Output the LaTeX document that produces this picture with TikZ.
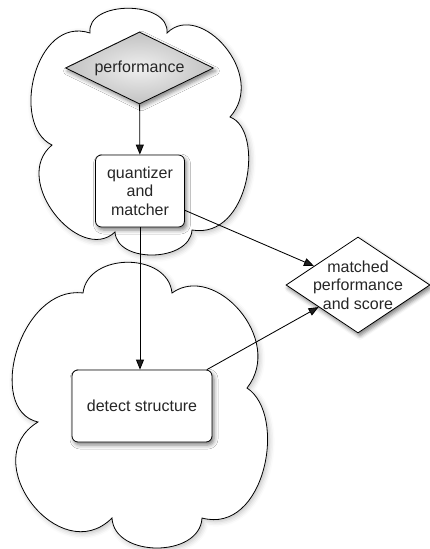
\documentclass[tikz,border=0pt]{standalone}
\usepackage{fontspec}
\setmainfont{Liberation Sans}
\usetikzlibrary{shapes.geometric,arrows.meta,shadows.blur}
\begin{document}
\begin{tikzpicture}[x=1pt,y=-1pt,
  softshadow/.style={blur shadow={shadow xshift=2pt,shadow yshift=-3pt,shadow blur radius=4pt,shadow opacity=50}},
  cloudline/.style={draw=black,line width=0.8pt,fill=white,
    blur shadow={shadow xshift=2pt,shadow yshift=-2pt,shadow blur radius=5pt,shadow opacity=25}},
  procbox/.style={rectangle,rounded corners=6pt,draw,line width=0.8pt,fill=white,
    align=center,text=black!85,font=\fontsize{16}{18.5}\selectfont,inner sep=0pt,softshadow},
  decision/.style={diamond,draw,line width=0.8pt,inner sep=0pt,softshadow},
  dlabel/.style={align=center,text=black!85,font=\fontsize{16}{18.5}\selectfont,inner sep=0pt},
  conn/.style={-{Triangle[length=10pt,width=8pt]},line width=0.85pt}]
\useasboundingbox (0,0) rectangle (430,549);
% clouds
\draw[cloudline] (90,33) .. controls (86,0) and (170,0) .. (167,33)
  .. controls (200,0) and (268,75) .. (230,117)
  .. controls (265,130) and (250,240) .. (192,230)
  .. controls (190,262) and (117,264) .. (115,232)
  .. controls (80,265) and (10,180) .. (52,145)
  .. controls (10,125) and (35,15) .. (90,33) -- cycle;
\draw[cloudline] (83,293) .. controls (88,252) and (168,252) .. (172,293)
  .. controls (215,262) and (285,340) .. (247,388)
  .. controls (288,415) and (265,535) .. (202,518)
  .. controls (200,558) and (114,558) .. (112,518)
  .. controls (60,570) and (-25,460) .. (38,422)
  .. controls (-15,410) and (20,285) .. (83,293) -- cycle;
% nodes
\node[decision,minimum width=148pt,minimum height=72pt,
  shading=radial,inner color=gray!12,outer color=gray!48] (perf) at (139.5,68) {};
\node[dlabel] (perftext) at (perf.center) {performance};
\node[procbox,minimum width=89pt,minimum height=72pt] (quant) at (140,191) {quantizer\\and\\matcher};
\node[procbox,minimum width=140pt,minimum height=72pt] (detect) at (142,406) {detect structure};
\node[decision,fill=white,minimum width=144pt,minimum height=96pt] (matched) at (358,285) {};
\node[dlabel] (matchedtext) at (matched.center) {matched\\performance\\and score};
% connectors
\draw[conn] (perf) -- (quant);
\draw[conn] (quant.south) -- (quant.south |- detect.north);
\draw[conn] (quant) -- (matched);
\draw[conn] (detect) -- (matched);
\end{tikzpicture}
\end{document}
